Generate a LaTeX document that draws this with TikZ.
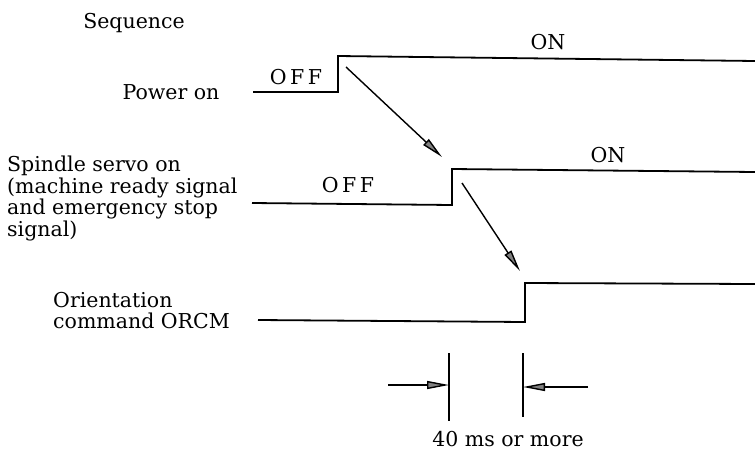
\documentclass[tikz,border=0pt]{standalone}
\usepackage{fontspec}
\setmainfont{DejaVu Serif}
\usetikzlibrary{arrows.meta}
\begin{document}
\begin{tikzpicture}[x=1pt,y=-1pt,
  sig/.style={line width=1.8pt,line join=miter},
  lbl/.style={font=\fontsize{20.5}{21.5}\selectfont,inner sep=0pt},
  txt/.style={font=\fontsize{20.5}{21.5}\selectfont,inner sep=0pt,align=left},
  cause/.style={line width=1.4pt,-{Triangle[length=22pt,width=8pt,fill=gray]}},
  dim/.style={line width=1.4pt,-{Triangle[length=22pt,width=8pt,fill=gray]}},
  tick/.style={line width=1.6pt}]
\useasboundingbox (0,0) rectangle (755,453);
% labels
\node[lbl] (seq) at (134,23) {Sequence};
\node[lbl] (pwr) at (171,92) {Power on};
\node[txt,anchor=north west] (sso) at (7,156) {Spindle servo on\\(machine ready signal\\and emergency stop\\signal)};
\node[txt,anchor=north west] (orc) at (53,292) {Orientation\\command ORCM};
% signal levels
\node[lbl] (off1) at (296,77) {O\,F\,F};
\node[lbl] (on1) at (548,42) {ON};
\node[lbl] (off2) at (348,185) {O\,F\,F};
\node[lbl] (on2) at (608,155) {ON};
% Power on waveform
\coordinate (p0) at (253,92);
\coordinate (p1) at (338,92);
\coordinate (p2) at (338,56);
\coordinate (p3) at (755,61);
\draw[sig] (p0) -- (p1) -- (p2) -- (p3);
% Spindle waveform
\coordinate (s0) at (252,203);
\coordinate (s1) at (452,205);
\coordinate (s2) at (452,169);
\coordinate (s3) at (755,172);
\draw[sig] (s0) -- (s1) -- (s2) -- (s3);
% ORCM waveform
\coordinate (o0) at (258,320);
\coordinate (o1) at (525,322);
\coordinate (o2) at (525,283);
\coordinate (o3) at (755,284);
\draw[sig] (o0) -- (o1) -- (o2) -- (o3);
% cause arrows
\coordinate (a1s) at (346,67);
\coordinate (a1e) at (442,157);
\coordinate (a2s) at (462,183);
\coordinate (a2e) at (520,271);
\draw[cause] (a1s) -- (a1e);
\draw[cause] (a2s) -- (a2e);
% dimension
\coordinate (t1a) at (449,353);
\coordinate (t1b) at (449,421);
\coordinate (t2a) at (523,353);
\coordinate (t2b) at (523,417);
\draw[tick] (t1a) -- (t1b);
\draw[tick] (t2a) -- (t2b);
\coordinate (d1s) at (388,385);
\coordinate (d1e) at (449,385);
\coordinate (d2s) at (588,387);
\coordinate (d2e) at (523,387);
\draw[dim] (d1s) -- (d1e);
\draw[dim] (d2s) -- (d2e);
\node[lbl] (ms) at (508,439) {40 ms or more};
\end{tikzpicture}
\end{document}
